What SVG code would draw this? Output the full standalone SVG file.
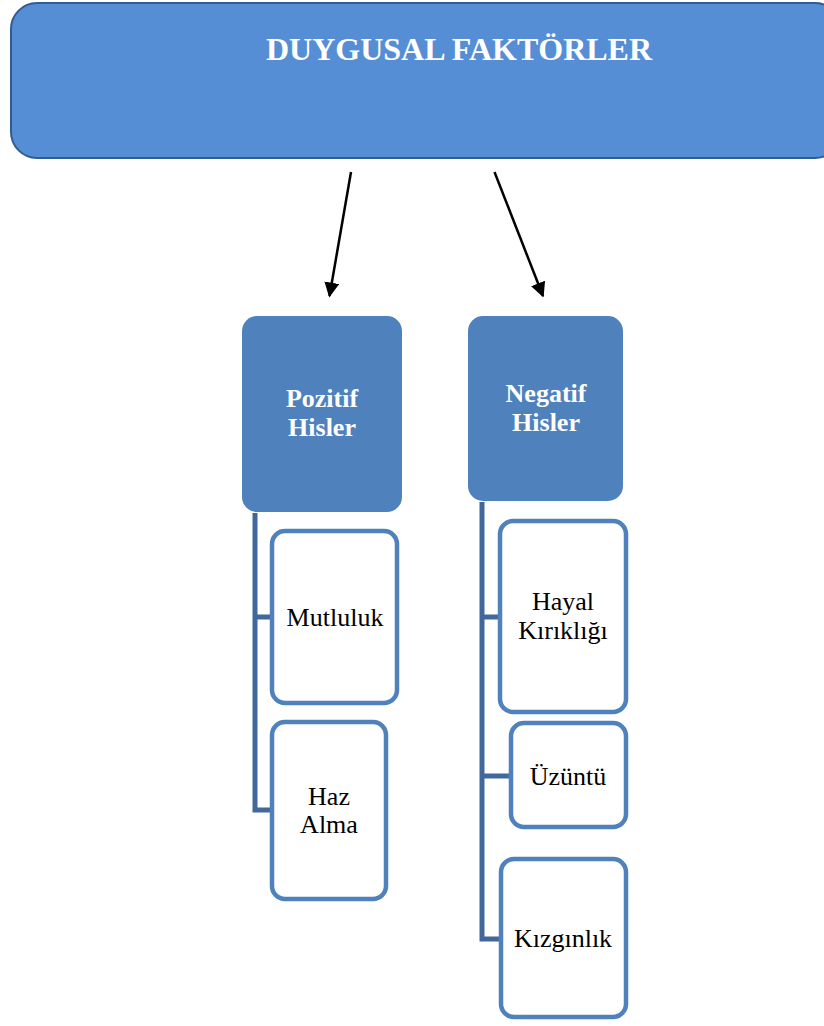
<svg xmlns="http://www.w3.org/2000/svg" width="824" height="1026" viewBox="0 0 824 1026">
<style>
.hdr{fill:#558ED5;stroke:#2F5C94;stroke-width:2}
.cat{fill:#4F81BD}
.leaf{fill:#fff;stroke:#4F81BD;stroke-width:4.5}
.tw{font-family:"Liberation Serif","Times New Roman",serif;font-weight:bold;fill:#fff;text-anchor:middle}
.tb{font-family:"Liberation Serif","Times New Roman",serif;fill:#000;text-anchor:middle;font-size:26px}
.tree{fill:none;stroke:#41689C;stroke-width:5}
.arr{stroke:#000;stroke-width:2.5;fill:none}
</style>
<defs>
<marker id="ah" viewBox="0 0 10 10" refX="9" refY="5" markerWidth="6" markerHeight="6" markerUnits="strokeWidth" orient="auto">
<path d="M0,0 L10,5 L0,10 z" fill="#000"/>
</marker>
</defs>
<g id="title">
<rect class="hdr" x="11" y="3" width="830" height="155" rx="26"/>
<text class="tw" x="459" y="60" font-size="32">DUYGUSAL FAKTÖRLER</text>
</g>
<g id="connectors">
<line class="arr" x1="351" y1="172" x2="329.5" y2="296" marker-end="url(#ah)"/>
<line class="arr" x1="494.5" y1="172" x2="543" y2="296" marker-end="url(#ah)"/>
<path class="tree" d="M255,513 V810 H272 M255,617 H272"/>
<path class="tree" d="M482,502 V939 H502 M482,617 H500 M482,776 H512"/>
</g>
<g id="pozitif">
<rect class="cat" x="242" y="316" width="160" height="196" rx="15"/>
<text class="tw" x="322" y="407" font-size="26">Pozitif</text>
<text class="tw" x="322" y="436" font-size="26">Hisler</text>
</g>
<g id="negatif">
<rect class="cat" x="468" y="316" width="155" height="185" rx="15"/>
<text class="tw" x="546" y="402" font-size="26">Negatif</text>
<text class="tw" x="546" y="431" font-size="26">Hisler</text>
</g>
<g id="mutluluk">
<rect class="leaf" x="272" y="531" width="125" height="172" rx="13"/>
<text class="tb" x="335" y="626">Mutluluk</text>
</g>
<g id="hazalma">
<rect class="leaf" x="272" y="722" width="114" height="177" rx="13"/>
<text class="tb" x="329" y="805">Haz</text>
<text class="tb" x="329" y="833">Alma</text>
</g>
<g id="hayal">
<rect class="leaf" x="500" y="521" width="126" height="191" rx="13"/>
<text class="tb" x="563" y="610">Hayal</text>
<text class="tb" x="563" y="639">Kırıklığı</text>
</g>
<g id="uzuntu">
<rect class="leaf" x="511" y="723" width="115" height="104" rx="13"/>
<text class="tb" x="568" y="785">Üzüntü</text>
</g>
<g id="kizginlik">
<rect class="leaf" x="501" y="859" width="125" height="158" rx="13"/>
<text class="tb" x="563" y="947">Kızgınlık</text>
</g>
</svg>
